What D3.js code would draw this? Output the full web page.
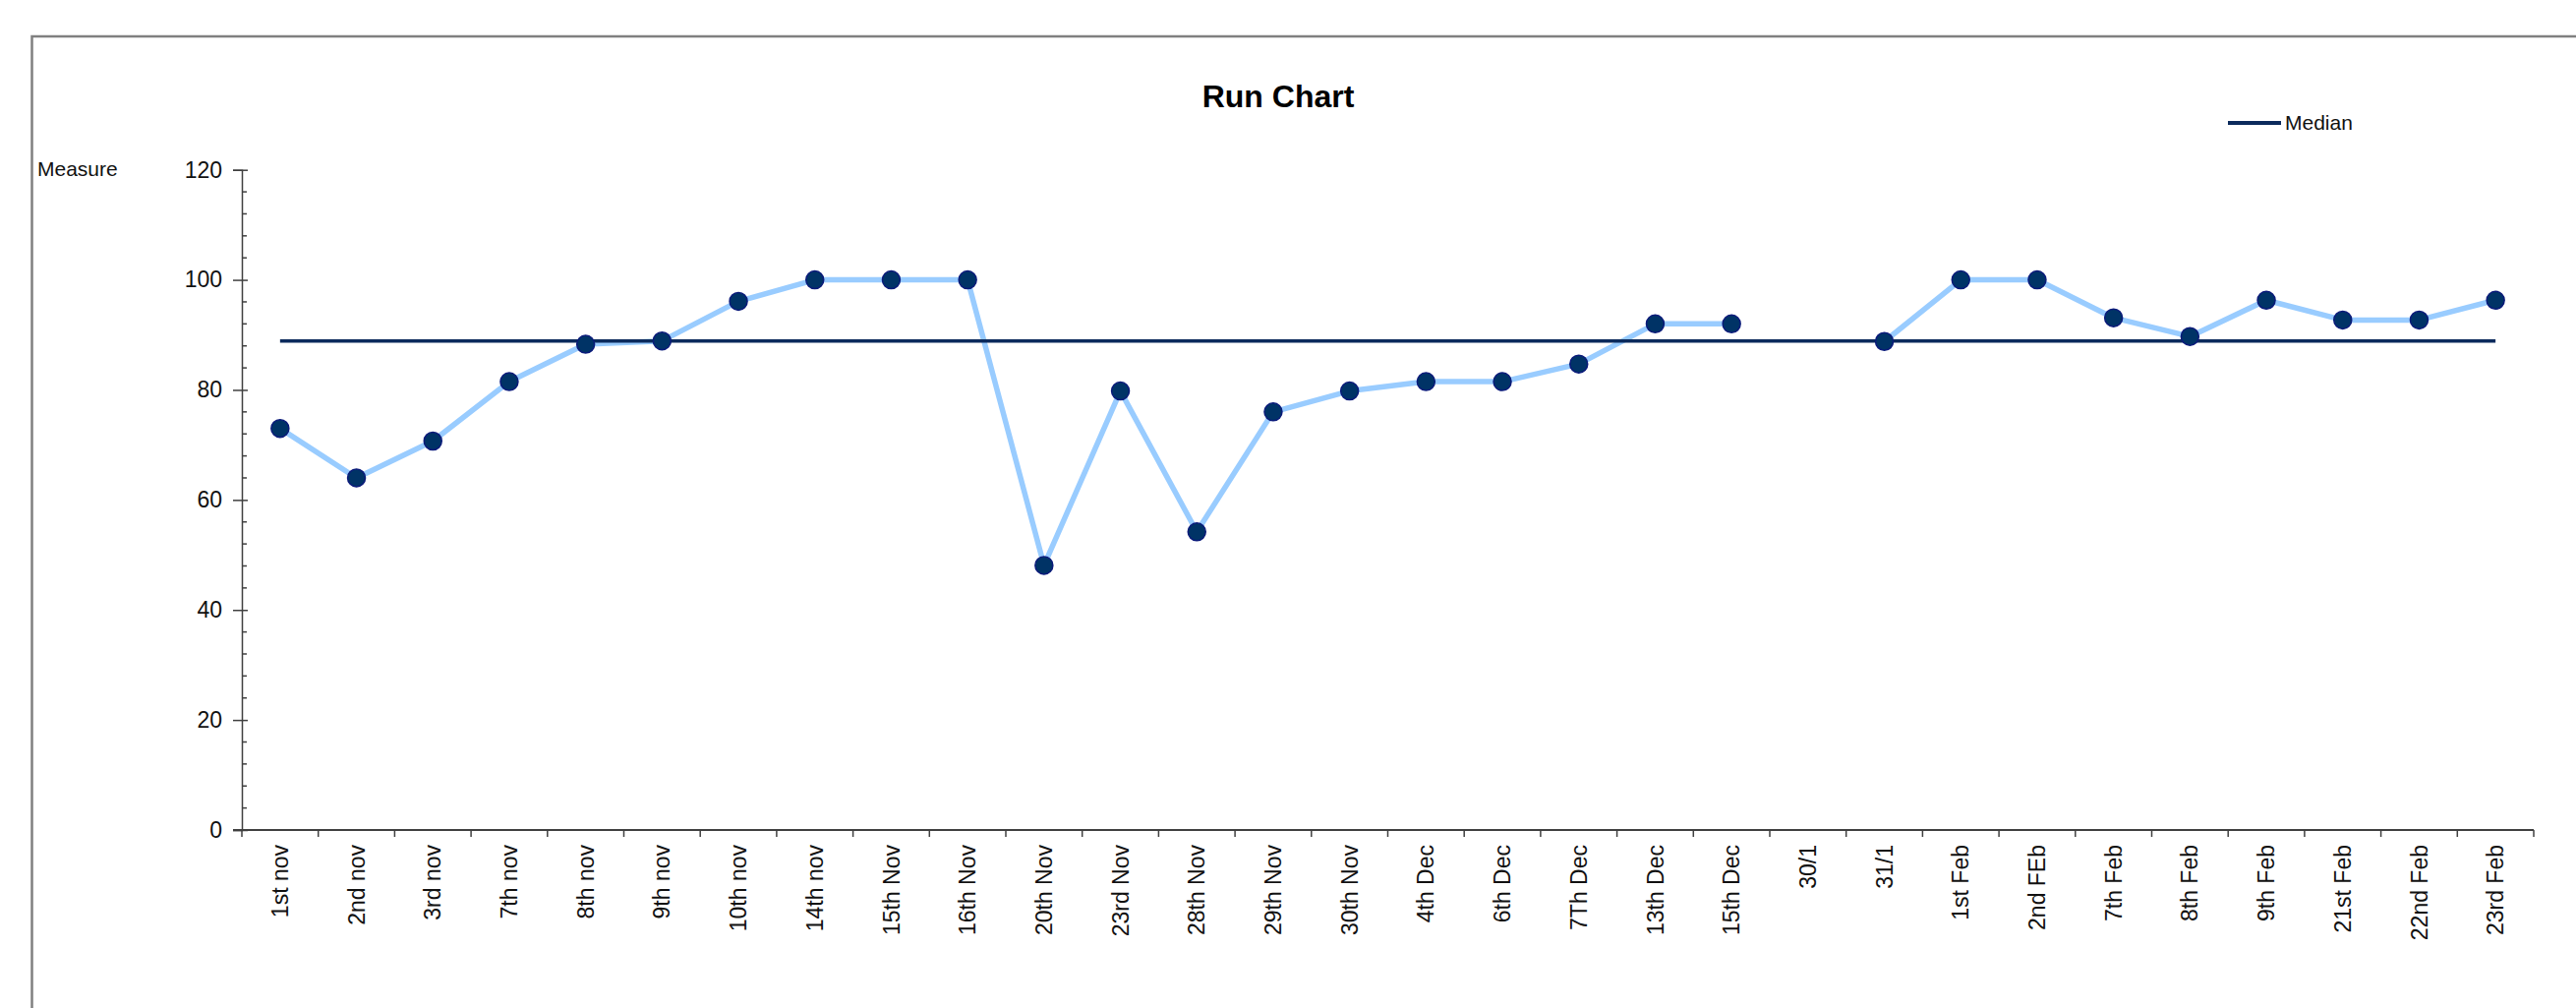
<!DOCTYPE html>
<html>
<head>
<meta charset="utf-8">
<script src="https://cdn.jsdelivr.net/npm/d3@7"></script>
<style>
  html, body { margin: 0; padding: 0; background: #fff; }
  svg { display: block; }
  text { font-family: "Liberation Sans", Arial, sans-serif; }
</style>
</head>
<body>
<svg id="chart" width="2620" height="1025"></svg>
<script>
const categories = ["1st nov","2nd nov","3rd nov","7th nov","8th nov","9th nov","10th nov","14th nov",
  "15th Nov","16th Nov","20th Nov","23rd Nov","28th Nov","29th Nov","30th Nov","4th Dec","6th Dec",
  "7Th Dec","13th Dec","15th Dec","30/1","31/1","1st Feb","2nd FEb","7th Feb","8th Feb","9th Feb",
  "21st Feb","22nd Feb","23rd Feb"];
const measureValues = [73, 64, 70.7, 81.5, 88.3, 88.9, 96.1, 100, 100, 100, 48.1, 79.8, 54.2, 76, 79.8,
  81.5, 81.5, 84.7, 92, 92, null, 88.8, 100, 100, 93.1, 89.7, 96.3, 92.7, 92.7, 96.3];
const medianValue = 88.9;
const yTickValues = [0, 20, 40, 60, 80, 100, 120];
const yMinorStep = 4;
const titleText = "Run Chart";
const yAxisLabel = "Measure";
const legendLabel = "Median";

const svg = d3.select("#chart");

// chart frame
svg.append("rect")
  .attr("x", 32.5).attr("y", 37)
  .attr("width", 2700).attr("height", 1100)
  .attr("fill", "none").attr("stroke", "#808080").attr("stroke-width", 2.5);

const x = d3.scaleBand().domain(categories).range([246, 2577]);
const y = d3.scaleLinear().domain([0, 120]).range([844, 172.7]);
const cx = d => x(d) + x.bandwidth() / 2;

// title
svg.append("text")
  .attr("x", 1300).attr("y", 109)
  .attr("text-anchor", "middle")
  .attr("font-size", 32).attr("font-weight", "bold").attr("fill", "#000")
  .text(titleText);

// y axis label
svg.append("text")
  .attr("x", 38).attr("y", 179)
  .attr("font-size", 21).attr("fill", "#111")
  .text(yAxisLabel);

// y axis
const yAxis = d3.axisLeft(y).tickValues(yTickValues).tickSize(9).tickPadding(11).tickFormat(d3.format("d"));
const gy = svg.append("g").attr("transform", "translate(246,0)").call(yAxis);
gy.select(".domain").attr("stroke", "#404040").attr("stroke-width", 1.5);
gy.selectAll(".tick line").attr("stroke", "#404040").attr("stroke-width", 1.5).attr("x2", -9);
gy.selectAll(".tick text").attr("font-size", 23).attr("fill", "#111")
  .attr("font-family", "Liberation Sans, Arial, sans-serif");
// inside part of major ticks
gy.selectAll(".tick").append("line")
  .attr("x1", 0).attr("x2", 6).attr("stroke", "#404040").attr("stroke-width", 1.5);
// minor ticks
const minorTicks = d3.range(0, 120 + 0.001, yMinorStep).filter(v => yTickValues.indexOf(v) < 0);
gy.selectAll(".minor").data(minorTicks).join("line")
  .attr("class", "minor")
  .attr("x1", 0).attr("x2", 5)
  .attr("y1", d => y(d)).attr("y2", d => y(d))
  .attr("stroke", "#404040").attr("stroke-width", 1.5);

// x axis
const gx = svg.append("g").attr("transform", "translate(0,844)");
gx.append("line")
  .attr("x1", 237).attr("x2", x.range()[1])
  .attr("stroke", "#404040").attr("stroke-width", 1.8);
const boundaries = categories.map(c => x(c)).concat([x.range()[1]]);
gx.selectAll(".xtick").data(boundaries).join("line")
  .attr("class", "xtick")
  .attr("x1", d => d).attr("x2", d => d)
  .attr("y1", 0).attr("y2", 7)
  .attr("stroke", "#404040").attr("stroke-width", 1.5);
gx.selectAll(".xlabel").data(categories).join("text")
  .attr("class", "xlabel")
  .attr("transform", d => `translate(${cx(d)},15) rotate(-90)`)
  .attr("text-anchor", "end")
  .attr("dy", "0.35em")
  .attr("font-size", 23).attr("fill", "#111")
  .text(d => d);

// data line
const points = categories.map((c, i) => ({ c, v: measureValues[i] }));
const line = d3.line()
  .defined(d => d.v !== null)
  .x(d => cx(d.c))
  .y(d => y(d.v));
svg.append("path")
  .datum(points)
  .attr("d", line)
  .attr("fill", "none")
  .attr("stroke", "#99ccff")
  .attr("stroke-width", 5.5)
  .attr("stroke-linejoin", "round");

// median line
svg.append("path")
  .datum(points)
  .attr("d", d3.line().x(d => cx(d.c)).y(() => y(medianValue)))
  .attr("fill", "none")
  .attr("stroke", "#0b2a5c")
  .attr("stroke-width", 3.5);

// markers
svg.selectAll(".dot").data(points.filter(d => d.v !== null)).join("circle")
  .attr("class", "dot")
  .attr("cx", d => cx(d.c))
  .attr("cy", d => y(d.v))
  .attr("r", 9)
  .attr("fill", "#003366")
  .attr("stroke", "#0a1a7a")
  .attr("stroke-width", 1.5);

// legend
const lg = svg.append("g");
lg.append("line")
  .attr("x1", 2266).attr("x2", 2320).attr("y1", 125).attr("y2", 125)
  .attr("stroke", "#0b2a5c").attr("stroke-width", 4);
lg.append("text")
  .attr("x", 2324).attr("y", 125).attr("dy", "0.35em")
  .attr("font-size", 21).attr("fill", "#111")
  .text(legendLabel);
</script>
</body>
</html>
